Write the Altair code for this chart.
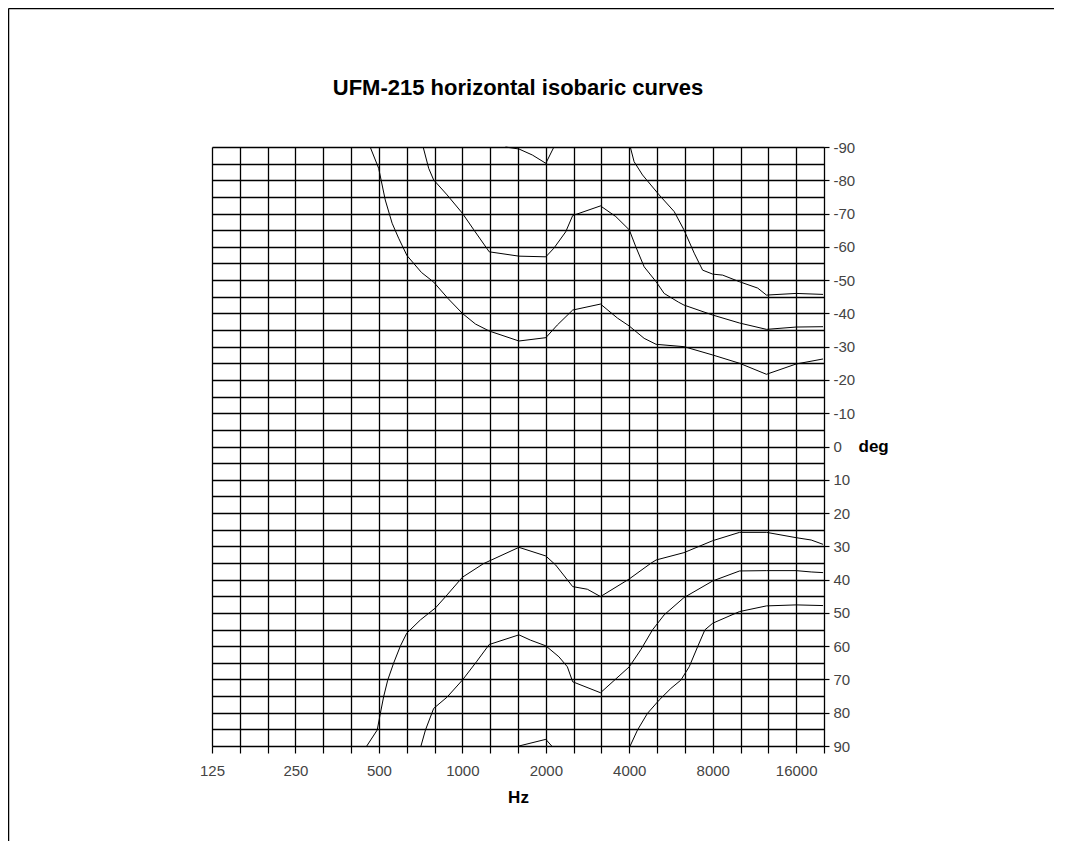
import altair as alt
import pandas as pd

# ---- data ----
t0_freq = [1431, 1600, 1788, 2000, 2139]
t0_deg = [-90, -89.4, -87.6, -85.1, -90]

t1_freq = [722, 756, 788, 881, 1000, 1100, 1250, 1600, 2000, 2139, 2359, 2500, 3150, 3576,
           4000, 4224, 4526, 5000, 5344, 6013, 6300, 8000, 10000, 12500, 16000, 20000]
t1_deg = [-90, -83.6, -80.1, -75.6, -70.1, -65.1, -58.5, -57.2, -57, -59.6, -64.5, -69.4, -72.3, -69.1,
          -65.1, -60, -54, -49.5, -46, -43.4, -42.5, -39.5, -37.1, -35.2, -35.9, -36]

t2_freq = [465, 499, 527, 558, 589, 631, 712, 788, 887, 1000, 1115, 1250, 1600, 2000, 2200, 2500,
           3150, 3625, 4000, 4526, 5000, 6300, 8000, 10000, 12500, 16000, 20000]
t2_deg = [-90, -83.6, -74.1, -67.1, -62.6, -57.4, -52.3, -49.4, -44.5, -40, -36.8, -34.7, -31.7, -32.7,
          -36.5, -41, -42.8, -38.6, -36.2, -32.5, -30.7, -30, -27.5, -25, -21.7, -24.8, -26.3]

t3_freq = [4034, 4163, 4465, 5127, 5808, 6300, 6860, 7355, 8000, 8688, 10000, 11625, 12500, 16000, 20000]
t3_deg = [-90, -85.6, -81.6, -75.6, -70.6, -65.1, -58.1, -53, -51.8, -51.5, -49.5, -47.6, -45.5, -46, -45.7]

b0_freq = [1600, 2000, 2100]
b0_deg = [90, 88, 90]

b1_freq = [709, 736, 788, 881, 1000, 1124, 1250, 1600, 1762, 2000, 2230, 2392, 2500, 3150, 4000,
           4400, 4852, 5344, 6300, 8000, 10000, 12500, 16000, 18122, 20000]
b1_deg = [90, 85.2, 78.7, 75.3, 70.2, 64.7, 59.5, 56.6, 58.2, 59.9, 63.2, 66.2, 70.7, 74, 66.2,
          61.1, 55.1, 50.6, 45.4, 40.4, 37.4, 37.3, 37.3, 37.7, 37.9]

b2_freq = [452, 493, 506, 520, 538, 565, 598, 630, 706, 800, 881, 1000, 1192, 1600, 2000, 2170, 2500,
           2825, 3150, 4000, 4783, 5000, 6300, 8000, 10000, 12500, 16000, 18122, 20000]
b2_deg = [90, 85.2, 80.2, 75.2, 70.2, 65.1, 59.9, 56.1, 52.1, 48.5, 44.6, 39.3, 35.2, 30.3, 32.9, 35.6, 42.1,
          42.9, 45.1, 39.8, 35.1, 34.1, 31.9, 28.3, 25.8, 25.8, 27.4, 28.1, 29.4]

b3_freq = [4028, 4283, 4652, 5127, 5650, 6140, 6580, 7054, 7496, 8000, 10000, 12500, 16000, 20000]
b3_deg = [90, 85.2, 80.2, 76.2, 72.7, 70.2, 66.2, 60.2, 55.1, 53.1, 49.6, 47.9, 47.6, 47.8]

x_labels = [125, 250, 500, 1000, 2000, 4000, 8000, 16000]
x_grid = [125 * 2 ** (k / 3) for k in range(23)]
y_labels = list(range(-90, 91, 10))
y_grid = list(range(-90, 91, 5))
title_text = ["UFM-215 horizontal isobaric curves"]

curves = {
    "T0": (t0_freq, t0_deg), "T1": (t1_freq, t1_deg), "T2": (t2_freq, t2_deg), "T3": (t3_freq, t3_deg),
    "B0": (b0_freq, b0_deg), "B1": (b1_freq, b1_deg), "B2": (b2_freq, b2_deg), "B3": (b3_freq, b3_deg),
}
rows = []
for name, (fs, ds) in curves.items():
    for i, (f, d) in enumerate(zip(fs, ds)):
        rows.append({"curve": name, "f": f, "deg": d, "i": i})
df = pd.DataFrame(rows)

FONT = "Liberation Sans"
W, H = 612, 599
PAD_L, PAD_T, PAD_R, PAD_B = 204, 139, 230, 95

x_enc = alt.X(
    "f:Q",
    scale=alt.Scale(type="log", domain=[125, 125 * 2 ** (22 / 3)], nice=False),
    axis=alt.Axis(
        values=x_grid,
        labelExpr="indexof(%s, round(datum.value)) >= 0 ? '' + round(datum.value) : ''" % x_labels,
        labelFlush=False, labelOverlap=False, labelFontSize=15, labelPadding=10,
        labelColor="#444", labelFont=FONT,
        tickSize=7, tickColor="#000", tickWidth=1.2, grid=True, gridColor="#000", gridWidth=1.3,
        domainColor="#000",
        title="Hz", titleFont=FONT, titleFontSize=17, titleFontWeight="bold",
        titleX=W / 2, titleY=51, titleAlign="center", titleBaseline="middle", titleColor="#000",
    ),
)
y_enc = alt.Y(
    "deg:Q",
    scale=alt.Scale(domain=[-90, 90], reverse=True, nice=False, zero=False),
    axis=alt.Axis(
        orient="right", values=y_grid,
        labelExpr="indexof(%s, datum.value) >= 0 ? '' + datum.value : ''" % y_labels,
        labelOverlap=False, labelFontSize=15, labelPadding=4, labelColor="#444", labelFont=FONT,
        tickSize=5, tickColor="#000", tickWidth=1.2,
        tickOpacity={"condition": {"test": "datum.value % 10 == 0", "value": 1}, "value": 0},
        grid=True, gridColor="#000", gridWidth=1.3, domainColor="#000",
        title="deg", titleFont=FONT, titleFontSize=17, titleFontWeight="bold", titleAngle=0,
        titleX=34, titleY=H / 2, titleAlign="left", titleBaseline="middle", titleColor="#000",
    ),
)

lines = alt.Chart(df).mark_line(color="black", strokeWidth=1).encode(
    x=x_enc, y=y_enc, detail="curve:N", order="i:Q"
)

title = alt.Chart(pd.DataFrame({"t": title_text})).mark_text(
    font=FONT, fontSize=22, fontWeight="bold", color="#000", align="center", baseline="alphabetic"
).encode(text="t:N", x=alt.value(W / 2), y=alt.value(-52))

one = pd.DataFrame({"k": [0]})
frame_top = alt.Chart(one).mark_rule(color="black", strokeWidth=1.5).encode(
    x=alt.value(-203.5), x2=alt.value(W + PAD_R), y=alt.value(-138.5)
)
frame_left = alt.Chart(one).mark_rule(color="black", strokeWidth=1.5).encode(
    x=alt.value(-203.5), y=alt.value(-138.5), y2=alt.value(H + PAD_B)
)

chart = alt.layer(lines, title, frame_top, frame_left).properties(
    width=W, height=H,
    autosize=alt.AutoSizeParams(type="none"),
    padding={"left": PAD_L, "top": PAD_T, "right": PAD_R, "bottom": PAD_B},
).configure_view(stroke="#000", strokeWidth=1).configure(background="white")

chart.save("out.html", embed_options={"renderer": "svg", "actions": False})
